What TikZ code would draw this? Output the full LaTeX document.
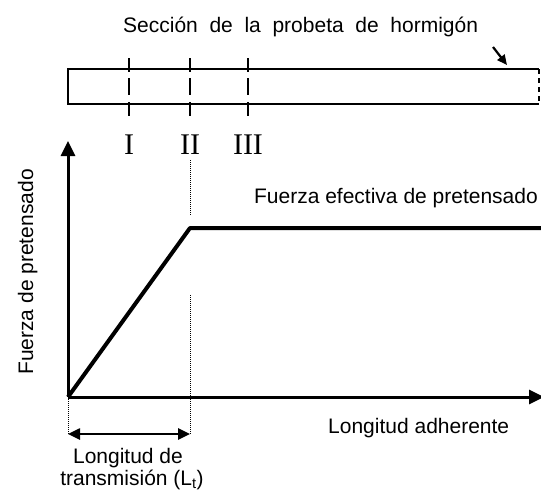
\documentclass[tikz,border=0pt]{standalone}
\usepackage{fontspec}
\setmainfont{Liberation Sans}
\newfontfamily\romanfont{Liberation Serif}
\usetikzlibrary{arrows.meta}
\tikzset{every node/.style={inner sep=0pt, font=\fontsize{21}{22}\selectfont}}
\tikzset{probeta/.style={line width=1.3pt},
  corte/.style={line width=1.3pt, dash pattern=on 14pt off 6pt on 17pt off 7pt},
  romano/.style={font=\romanfont\fontsize{30}{30}\selectfont, anchor=base},
  eje/.style={line width=3pt, -{Triangle[length=15pt,width=14pt]}},
  curva/.style={line width=4pt, line join=round},
  guia/.style={line width=1pt, densely dotted},
  cota/.style={line width=2.5pt, {Triangle[length=12pt,width=11pt]}-{Triangle[length=12pt,width=11pt]}},
  flecha/.style={line width=2.2pt, -{Triangle[length=10pt,width=9pt]}}}

\begin{document}
\begin{tikzpicture}[x=1pt,y=1pt]
  \useasboundingbox (0,0) rectangle (541,-490);
  % probeta de hormigon
  \draw[probeta] (539,-69) -- (68,-69) -- (68,-104) -- (539,-104);
  \draw[probeta, dash pattern=on 5pt off 4pt] (539,-69) -- (539,-104);
  \node[anchor=base west] (titulo) at (123,-32) {Sección~~de~~la~~probeta~~de~~hormigón};
  \coordinate (fa) at (493,-47);
  \coordinate (fb) at (507,-65);
  \draw[flecha] (fa) -- (fb);
  \foreach \x/\n in {129/I,190/II,248/III} {
    \draw[corte] (\x,-58) -- (\x,-117);
    \node[romano] (\n) at (\x,-154) {\n};
  }
  % grafico
  \coordinate (O) at (68,-397);
  \coordinate (ytip) at (68,-141);
  \coordinate (xtip) at (544,-397);
  \coordinate (K) at (190,-228);
  \coordinate (fin) at (541,-228);
  \draw[guia] (190,-160) -- (190,-215);
  \draw[guia] (190,-295) -- (190,-434);
  \draw[guia] (O) -- (68,-434);
  \draw[eje] (O) -- (ytip);
  \draw[eje] (O) -- (xtip);
  \draw[curva] (O) -- (K) -- (fin);
  \coordinate (ca) at (68,-434);
  \coordinate (cb) at (190,-434);
  \draw[cota] (ca) -- (cb);
  \node[rotate=90, anchor=base] (fuerza) at (33,-272) {Fuerza de pretensado};
  \node[anchor=base east] (efectiva) at (538,-203) {Fuerza efectiva de pretensado};
  \node[anchor=base west] (adherente) at (328,-433) {Longitud adherente};
  \node[anchor=base] (lt1) at (128,-463) {Longitud de};
  \node[anchor=base] (lt2) at (132,-485) {transmisión (L\textsubscript{t})};
\end{tikzpicture}
\end{document}
